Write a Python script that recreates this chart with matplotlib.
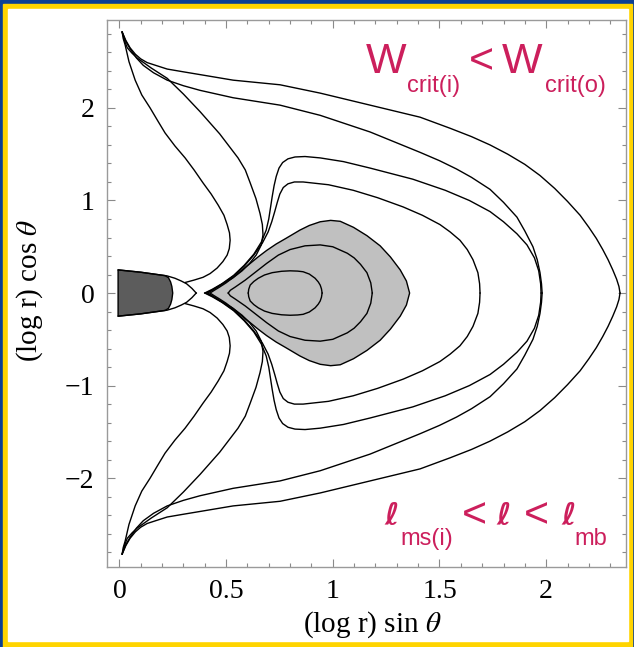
import numpy as np
import matplotlib.pyplot as plt
from matplotlib.patches import Rectangle
from matplotlib.ticker import MultipleLocator, FuncFormatter

plt.rcParams['font.family'] = 'Liberation Serif'
plt.rcParams['mathtext.fontset'] = 'stix'

# upper halves of the equipotential curves, (log r) sin th  vs  (log r) cos th
# (the picture is mirror symmetric about the equator)
a_x = [0.013, 0.03, 0.05, 0.075, 0.10, 0.13, 0.17, 0.224, 0.30, 0.378, 0.533, 0.753,
       0.941, 1.175, 1.409, 1.55, 1.65, 1.737, 1.82, 1.90, 1.971, 2.04, 2.10, 2.159,
       2.20, 2.235, 2.265, 2.29, 2.312, 2.33, 2.341, 2.346]
a_y = [2.82, 2.73, 2.65, 2.58, 2.53, 2.49, 2.46, 2.42, 2.39, 2.36, 2.30, 2.25,
       2.16, 2.03, 1.90, 1.78, 1.69, 1.60, 1.50, 1.39, 1.27, 1.13, 0.99, 0.84,
       0.71, 0.59, 0.47, 0.36, 0.25, 0.15, 0.07, 0.0]

b_x = [0.013, 0.03, 0.05, 0.08, 0.112, 0.16, 0.224, 0.30, 0.378, 0.533, 0.753, 0.941,
       1.175, 1.409, 1.50, 1.58, 1.65, 1.737, 1.80, 1.863, 1.90, 1.938, 1.958, 1.971,
       1.978, 1.981]
b_y = [2.82, 2.72, 2.64, 2.54, 2.46, 2.38, 2.30, 2.24, 2.19, 2.11, 2.03, 1.92,
       1.74, 1.52, 1.43, 1.34, 1.25, 1.12, 0.98, 0.82, 0.67, 0.50, 0.36, 0.22,
       0.10, 0.0]

c_x = [1.976, 1.974, 1.965, 1.945, 1.91, 1.863, 1.80, 1.737, 1.64, 1.527, 1.375, 1.175,
       1.05, 0.941, 0.87, 0.823, 0.79, 0.765, 0.748, 0.735, 0.725, 0.716, 0.708, 0.70,
       0.688, 0.665, 0.63, 0.585, 0.535, 0.48, 0.435, 0.40]
c_y = [0.0, 0.10, 0.24, 0.38, 0.52, 0.64, 0.77, 0.88, 1.00, 1.11, 1.23, 1.35,
       1.42, 1.46, 1.475, 1.47, 1.45, 1.41, 1.35, 1.26, 1.16, 1.04, 0.92, 0.80,
       0.68, 0.55, 0.42, 0.30, 0.19, 0.10, 0.04, 0.0]

d_x = [1.690, 1.688, 1.68, 1.657, 1.63, 1.596, 1.55, 1.502, 1.42, 1.33, 1.21, 1.096,
       0.98, 0.861, 0.82, 0.79, 0.768, 0.752, 0.74, 0.728, 0.714, 0.697, 0.67, 0.63,
       0.585, 0.538, 0.49, 0.445, 0.405]
d_y = [0.0, 0.10, 0.22, 0.36, 0.47, 0.57, 0.66, 0.74, 0.84, 0.93, 1.03, 1.11,
       1.17, 1.20, 1.20, 1.18, 1.14, 1.07, 0.98, 0.88, 0.77, 0.66, 0.54, 0.41,
       0.29, 0.19, 0.11, 0.045, 0.0]

e_x = [0.013, 0.018, 0.027, 0.045, 0.074, 0.105, 0.144, 0.18, 0.214, 0.26, 0.308, 0.35,
       0.392, 0.43, 0.463, 0.49, 0.505, 0.516, 0.519, 0.515, 0.505, 0.485, 0.458, 0.425,
       0.392, 0.35, 0.31]
e_y = [2.82, 2.75, 2.68, 2.50, 2.30, 2.14, 2.00, 1.86, 1.73, 1.59, 1.46, 1.33,
       1.19, 1.07, 0.95, 0.84, 0.74, 0.65, 0.57, 0.48, 0.41, 0.34, 0.27, 0.21,
       0.17, 0.14, 0.115]

f_x = [0.013, 0.025, 0.037, 0.06, 0.083, 0.15, 0.224, 0.30, 0.378, 0.47, 0.556, 0.59,
       0.613, 0.64, 0.659, 0.67, 0.673, 0.665, 0.641, 0.61, 0.575, 0.53, 0.482, 0.445,
       0.416]
f_y = [2.82, 2.72, 2.65, 2.59, 2.54, 2.43, 2.32, 2.15, 1.96, 1.72, 1.46, 1.33,
       1.19, 1.02, 0.86, 0.74, 0.63, 0.52, 0.41, 0.32, 0.24, 0.16, 0.097, 0.045,
       0.0]

g_x = [-0.006, 0.10, 0.224, 0.26, 0.29, 0.315, 0.34, 0.36]
g_y = [0.25, 0.225, 0.185, 0.16, 0.13, 0.10, 0.05, 0.0]

torus_x = [0.425, 0.445, 0.47, 0.50, 0.534, 0.57, 0.613, 0.65, 0.69, 0.735, 0.78, 0.846,
           0.89, 0.941, 0.99, 1.035, 1.097, 1.16, 1.222, 1.27, 1.316, 1.345, 1.36]
torus_y = [0.0, 0.03, 0.065, 0.11, 0.17, 0.24, 0.32, 0.39, 0.46, 0.53, 0.59, 0.68,
           0.73, 0.77, 0.785, 0.775, 0.71, 0.62, 0.51, 0.39, 0.25, 0.13, 0.0]

loop2_x = [0.51, 0.52, 0.543, 0.59, 0.64, 0.69, 0.745, 0.80, 0.87, 0.941, 1.00, 1.068,
           1.10, 1.13, 1.16, 1.178, 1.185]
loop2_y = [0.0, 0.03, 0.065, 0.14, 0.23, 0.32, 0.41, 0.47, 0.51, 0.52, 0.50, 0.43,
           0.38, 0.31, 0.22, 0.11, 0.0]

loop3_x = [0.604, 0.606, 0.613, 0.63, 0.651, 0.68, 0.716, 0.76, 0.80, 0.835, 0.861, 0.89,
           0.917, 0.932, 0.941, 0.947, 0.95]
loop3_y = [0.0, 0.04, 0.086, 0.125, 0.16, 0.195, 0.22, 0.235, 0.24, 0.237, 0.23, 0.205,
           0.16, 0.12, 0.086, 0.045, 0.0]

inner_x = [-0.006, 0.10, 0.215, 0.230, 0.240, 0.246, 0.25]
inner_y = [0.25, 0.225, 0.188, 0.165, 0.12, 0.07, 0.0]

W, H = 634, 647
fig = plt.figure(figsize=(W / 100, H / 100), dpi=100)

# blue / yellow picture frame
fig.patches.append(Rectangle((0, 0), 1, 1, transform=fig.transFigure,
                             color='#0b3f94', zorder=-3))
fig.patches.append(Rectangle((3 / W, 0), 629 / W, 1 - 4 / H, transform=fig.transFigure,
                             color='#ffd400', zorder=-2))
fig.patches.append(Rectangle((8 / W, 6 / H), 620 / W, 1 - 15 / H, transform=fig.transFigure,
                             color='white', zorder=-1))

ax = fig.add_axes([107 / W, 1 - 567 / H, (626 - 107) / W, (567 - 20) / H])
ax.set_facecolor('none')


def closed(x, y):
    x = np.asarray(x)
    y = np.asarray(y)
    return np.concatenate([x, x[::-1]]), np.concatenate([y, -y[::-1]])


xs, ys = closed(inner_x, inner_y)
ax.fill(xs, ys, fc='#5c5c5c', ec='k', lw=1.0, zorder=2)
xs, ys = closed(torus_x, torus_y)
ax.fill(xs, ys, fc='#c0c0c0', ec='k', lw=1.0, zorder=2)

for cx, cy in [(a_x, a_y), (b_x, b_y), (c_x, c_y), (d_x, d_y), (e_x, e_y),
               (f_x, f_y), (g_x, g_y), (loop2_x, loop2_y), (loop3_x, loop3_y)]:
    cx = np.asarray(cx)
    cy = np.asarray(cy)
    ax.plot(cx, cy, color='k', lw=1.0, zorder=3)
    ax.plot(cx, -cy, color='k', lw=1.0, zorder=3)

ax.set_xlim(-0.058, 2.374)
ax.set_ylim(-2.96, 2.95)

ax.xaxis.set_major_locator(MultipleLocator(0.5))
ax.xaxis.set_minor_locator(MultipleLocator(0.1))
ax.yaxis.set_major_locator(MultipleLocator(1))
ax.yaxis.set_minor_locator(MultipleLocator(0.2))
fmt = FuncFormatter(lambda v, p: ('%g' % v).replace('-', '\u2212'))
ax.xaxis.set_major_formatter(fmt)
ax.yaxis.set_major_formatter(fmt)
ax.tick_params(which='both', direction='in', top=True, right=True,
               color='#8a8a8a', width=0.8, labelsize=20)
ax.tick_params(which='major', length=6, pad=9)
ax.tick_params(which='minor', length=3)
for s in ax.spines.values():
    s.set_color('#9a9a9a')
    s.set_linewidth(1.0)

fig.text(372 / W, 1 - 625 / H, r'(log r) sin $\theta$', fontsize=21,
         ha='center', va='center')
fig.text(30 / W, 1 - 290 / H, r'(log r) cos $\theta$', fontsize=21,
         ha='center', va='center', rotation=90)

red = '#cc1f5c'
sans = 'Liberation Sans'


def put(px, py, s, size, family=sans, weight='normal'):
    fig.text(px / W, 1 - py / H, s, fontsize=size, color=red, family=family,
             weight=weight, ha='left', va='baseline')


put(366, 73, 'W', 31)
put(407, 92, 'crit(i)', 17)
put(469, 73, '<', 31)
put(502, 73, 'W', 31)
put(545, 92, 'crit(o)', 17)

ell = ['DejaVu Sans']
put(384, 525, '\u2113', 22, ell, 'bold')
put(400, 545, 'ms(i)', 17)
put(462, 527, '<', 31)
put(496, 525, '\u2113', 22, ell, 'bold')
put(524, 527, '<', 31)
put(561, 525, '\u2113', 22, ell, 'bold')
put(574, 545, 'mb', 17)

fig.savefig('out.png', dpi=100)
